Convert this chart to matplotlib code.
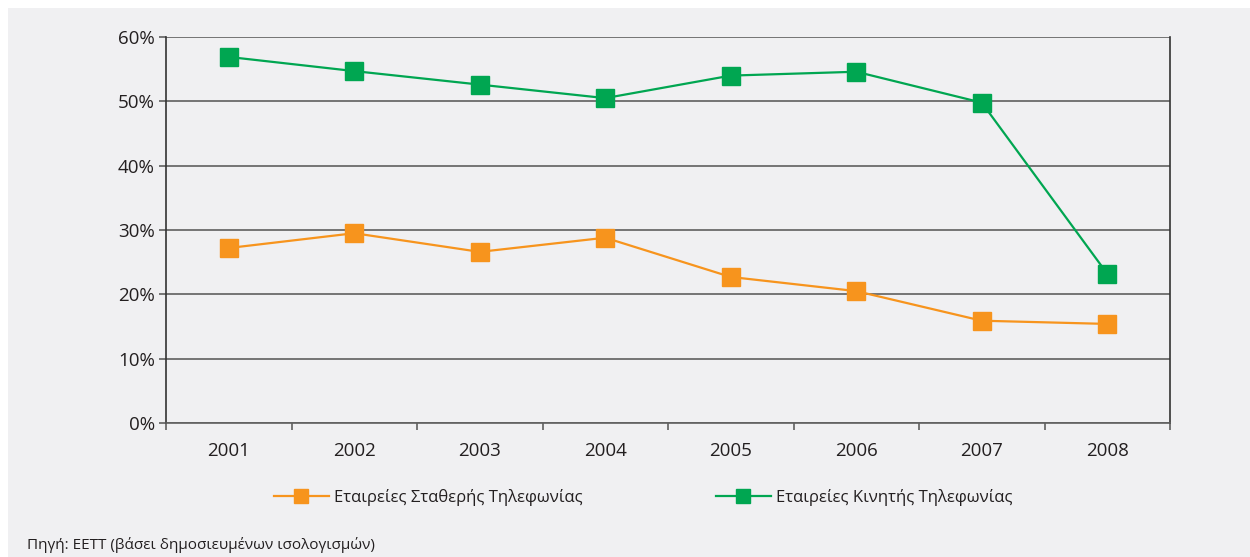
import matplotlib
matplotlib.use("Agg")
import matplotlib.pyplot as plt
from matplotlib.patches import Rectangle
import numpy as np

years = ["2001", "2002", "2003", "2004", "2005", "2006", "2007", "2008"]
fixed = [27.2, 29.5, 26.6, 28.8, 22.7, 20.5, 15.9, 15.4]
mobile = [56.9, 54.7, 52.6, 50.5, 54.0, 54.6, 49.8, 23.2]
labels = ["Εταιρείες Σταθερής Τηλεφωνίας", "Εταιρείες Κινητής Τηλεφωνίας"]
yticks = [0, 10, 20, 30, 40, 50, 60]
source = "Πηγή: ΕΕΤΤ (βάσει δημοσιευμένων ισολογισμών)"

plt.rcParams['font.family'] = ['Open Sans', 'DejaVu Sans']
BG = "#f0f0f2"
ORANGE = "#f7941d"
GREEN = "#00a651"
GRID = "#5f5f5f"
TXT = "#231f20"

W, H = 1250, 557
fig = plt.figure(figsize=(W / 100, H / 100), dpi=100)
fig.patch.set_facecolor("white")
fig.patches.append(Rectangle((8 / W, 0), 1 - 8 / W, 1 - 8 / H, transform=fig.transFigure,
                             facecolor=BG, edgecolor="none", zorder=-10))

ax = fig.add_axes([166 / W, 1 - 423 / H, (1170 - 166) / W, (423 - 37) / H])
ax.set_facecolor(BG)
x = np.arange(len(years))

ax.plot(x, fixed, color=ORANGE, lw=1.6, marker="s", ms=12.5, mec=ORANGE, mfc=ORANGE, label=labels[0], zorder=3)
ax.plot(x, mobile, color=GREEN, lw=1.6, marker="s", ms=12.5, mec=GREEN, mfc=GREEN, label=labels[1], zorder=3)

ax.set_xlim(-0.5, len(years) - 0.5)
ax.set_ylim(0, 60)
ax.set_yticks(yticks)
ax.set_yticklabels([f"{v}%" for v in yticks])
for v in yticks:
    ax.axhline(v, color=GRID, lw=1.2, zorder=1)

ax.set_xticks(np.arange(-0.5, len(years) + 0.5, 1))
ax.set_xticklabels([])
ax.set_xticks(x, minor=True)
ax.set_xticklabels(years, minor=True)
ax.tick_params(axis="x", which="major", direction="out", length=5, color=GRID, width=1.2)
ax.tick_params(axis="x", which="minor", length=0, pad=14, labelsize=13.5, labelcolor=TXT)
ax.tick_params(axis="y", direction="out", length=5, color=GRID, width=1.2, labelsize=13.5, labelcolor=TXT, pad=3)

ax.spines["top"].set_visible(False)
ax.spines["left"].set_color("#333333")
ax.spines["right"].set_color("#333333")
ax.spines["bottom"].set_color(GRID)
for s in ["left", "right", "bottom"]:
    ax.spines[s].set_linewidth(1.2)

leg = fig.legend(loc="center", bbox_to_anchor=(643 / W, 1 - 497 / H), ncol=2, frameon=False,
                 fontsize=12, columnspacing=8, handlelength=3.3, handletextpad=0.3,
                 markerscale=0.8, labelcolor=TXT)

fig.text(27 / W, 1 - 545 / H, source, fontsize=11, color=TXT, va="center", ha="left")

fig.savefig("out.png", dpi=100, facecolor=fig.get_facecolor())
